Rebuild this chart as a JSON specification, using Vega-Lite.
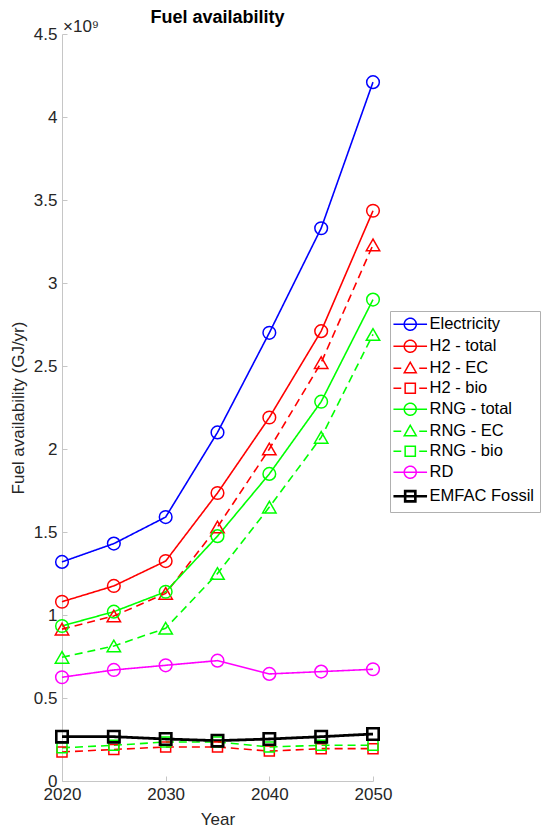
{
  "$schema": "https://vega.github.io/schema/vega-lite/v6.json",
  "width": 311,
  "height": 747,
  "autosize": "none",
  "padding": {"left": 62, "top": 34, "right": 169, "bottom": 46},
  "background": "white",
  "config": {
    "font": "Liberation Sans",
    "view": {"stroke": null},
    "axis": {"grid": false, "labelFlush": false, "labelOverlap": false, "domainColor": "#c6c6c6", "tickColor": "#c6c6c6", "labelColor": "#262626", "titleColor": "#262626", "labelFontSize": 17, "titleFontSize": 17, "titleFontWeight": "normal", "labelFont": "Liberation Sans", "titleFont": "Liberation Sans"}
  },
  "title": {"text": "Fuel availability", "fontSize": 18, "fontWeight": "bold", "color": "#000000", "anchor": "middle", "offset": -9, "font": "Liberation Sans"},
  "data": {"values": [
    {"year": 2020, "series": "Electricity", "value": 1320000000},
    {"year": 2025, "series": "Electricity", "value": 1430000000},
    {"year": 2030, "series": "Electricity", "value": 1590000000},
    {"year": 2035, "series": "Electricity", "value": 2100000000},
    {"year": 2040, "series": "Electricity", "value": 2700000000},
    {"year": 2045, "series": "Electricity", "value": 3330000000},
    {"year": 2050, "series": "Electricity", "value": 4210000000},
    {"year": 2020, "series": "H2 - total", "value": 1080000000},
    {"year": 2025, "series": "H2 - total", "value": 1175000000},
    {"year": 2030, "series": "H2 - total", "value": 1325000000},
    {"year": 2035, "series": "H2 - total", "value": 1735000000},
    {"year": 2040, "series": "H2 - total", "value": 2190000000},
    {"year": 2045, "series": "H2 - total", "value": 2710000000},
    {"year": 2050, "series": "H2 - total", "value": 3435000000},
    {"year": 2020, "series": "H2 - EC", "value": 915000000},
    {"year": 2025, "series": "H2 - EC", "value": 994000000},
    {"year": 2030, "series": "H2 - EC", "value": 1130000000},
    {"year": 2035, "series": "H2 - EC", "value": 1530000000},
    {"year": 2040, "series": "H2 - EC", "value": 2000000000},
    {"year": 2045, "series": "H2 - EC", "value": 2520000000},
    {"year": 2050, "series": "H2 - EC", "value": 3230000000},
    {"year": 2020, "series": "H2 - bio", "value": 175000000},
    {"year": 2025, "series": "H2 - bio", "value": 190000000},
    {"year": 2030, "series": "H2 - bio", "value": 205000000},
    {"year": 2035, "series": "H2 - bio", "value": 205000000},
    {"year": 2040, "series": "H2 - bio", "value": 180000000},
    {"year": 2045, "series": "H2 - bio", "value": 195000000},
    {"year": 2050, "series": "H2 - bio", "value": 195000000},
    {"year": 2020, "series": "RNG - total", "value": 934000000},
    {"year": 2025, "series": "RNG - total", "value": 1020000000},
    {"year": 2030, "series": "RNG - total", "value": 1140000000},
    {"year": 2035, "series": "RNG - total", "value": 1475000000},
    {"year": 2040, "series": "RNG - total", "value": 1850000000},
    {"year": 2045, "series": "RNG - total", "value": 2285000000},
    {"year": 2050, "series": "RNG - total", "value": 2900000000},
    {"year": 2020, "series": "RNG - EC", "value": 745000000},
    {"year": 2025, "series": "RNG - EC", "value": 813000000},
    {"year": 2030, "series": "RNG - EC", "value": 920000000},
    {"year": 2035, "series": "RNG - EC", "value": 1250000000},
    {"year": 2040, "series": "RNG - EC", "value": 1650000000},
    {"year": 2045, "series": "RNG - EC", "value": 2070000000},
    {"year": 2050, "series": "RNG - EC", "value": 2690000000},
    {"year": 2020, "series": "RNG - bio", "value": 200000000},
    {"year": 2025, "series": "RNG - bio", "value": 215000000},
    {"year": 2030, "series": "RNG - bio", "value": 235000000},
    {"year": 2035, "series": "RNG - bio", "value": 235000000},
    {"year": 2040, "series": "RNG - bio", "value": 205000000},
    {"year": 2045, "series": "RNG - bio", "value": 215000000},
    {"year": 2050, "series": "RNG - bio", "value": 215000000},
    {"year": 2020, "series": "RD", "value": 625000000},
    {"year": 2025, "series": "RD", "value": 669000000},
    {"year": 2030, "series": "RD", "value": 697000000},
    {"year": 2035, "series": "RD", "value": 725000000},
    {"year": 2040, "series": "RD", "value": 645000000},
    {"year": 2045, "series": "RD", "value": 659000000},
    {"year": 2050, "series": "RD", "value": 673000000},
    {"year": 2020, "series": "EMFAC Fossil", "value": 267000000},
    {"year": 2025, "series": "EMFAC Fossil", "value": 267000000},
    {"year": 2030, "series": "EMFAC Fossil", "value": 253000000},
    {"year": 2035, "series": "EMFAC Fossil", "value": 243000000},
    {"year": 2040, "series": "EMFAC Fossil", "value": 253000000},
    {"year": 2045, "series": "EMFAC Fossil", "value": 267000000},
    {"year": 2050, "series": "EMFAC Fossil", "value": 283000000}
  ]},
  "encoding": {
    "x": {"field": "year", "type": "quantitative", "scale": {"domain": [2020, 2050], "nice": false, "zero": false}, "axis": {"values": [2020, 2030, 2040, 2050], "format": "d", "title": "Year", "tickSize": -5, "labelPadding": 10, "titlePadding": 9}},
    "y": {"field": "value", "type": "quantitative", "scale": {"domain": [0, 4500000000], "nice": false}, "axis": {"values": [0, 500000000, 1000000000, 1500000000, 2000000000, 2500000000, 3000000000, 3500000000, 4000000000, 4500000000], "labelExpr": "format(datum.value/1e9, '~g')", "title": "Fuel availability (GJ/yr)", "tickSize": -5, "labelPadding": 10, "titlePadding": 6}}
  },
  "layer": [
    {
      "mark": {"type": "line"},
      "encoding": {
        "color": {"field": "series", "type": "nominal", "scale": {"domain": ["Electricity", "H2 - total", "H2 - EC", "H2 - bio", "RNG - total", "RNG - EC", "RNG - bio", "RD", "EMFAC Fossil"], "range": ["#0000ff", "#ff0000", "#ff0000", "#ff0000", "#00ff00", "#00ff00", "#00ff00", "#ff00ff", "#000000"]}, "legend": {
          "title": null, "orient": "none", "legendX": 328, "legendY": 277,
          "fillColor": "white", "strokeColor": "#b0b0b0", "padding": 5,
          "labelFontSize": 16.5, "labelColor": "#000000", "labelFont": "Liberation Sans",
          "symbolSize": 144, "symbolOffset": 7, "labelOffset": 11, "rowPadding": 3,
          "encode": {"symbols": {"update": {
            "shape": {"signal": "(datum.value=='H2 - EC'||datum.value=='RNG - EC') ? 'M-2.8,0H-1.5M1.5,0H2.8M-1,0.75L0,-1L1,0.75Z' : (datum.value=='H2 - bio'||datum.value=='RNG - bio') ? 'M-2.8,0H-1.5M1.5,0H2.8M-0.85,-0.85H0.85V0.85H-0.85Z' : datum.value=='EMFAC Fossil' ? 'M-2.8,0H2.8M-0.85,-0.85H0.85V0.85H-0.85Z' : 'M-2.8,0H2.8M1,0A1,1,0,1,1,-1,0A1,1,0,1,1,1,0'"},
            "fill": {"value": "transparent"},
            "stroke": {"scale": "color", "field": "value"},
            "strokeDash": {"value": [1, 0]},
            "strokeWidth": {"signal": "datum.value=='EMFAC Fossil' ? 2.6 : 1.5"}
          }}}
        }},
        "strokeDash": {"field": "series", "type": "nominal", "legend": null, "scale": {"type": "ordinal", "domain": ["EMFAC Fossil", "RD", "RNG - bio", "RNG - EC", "RNG - total", "H2 - bio", "H2 - EC", "H2 - total", "Electricity"], "range": [[1, 0], [1, 0], [8, 5], [8, 5], [1, 0], [8, 5], [8, 5], [1, 0], [1, 0]]}},
        "strokeWidth": {"field": "series", "type": "nominal", "legend": null, "scale": {"type": "ordinal", "domain": ["EMFAC Fossil", "RD", "RNG - bio", "RNG - EC", "RNG - total", "H2 - bio", "H2 - EC", "H2 - total", "Electricity"], "range": [2.8, 1.6, 1.6, 1.6, 1.6, 1.6, 1.6, 1.6, 1.6]}}
      }
    },
    {
      "mark": {"type": "point", "filled": false, "opacity": 1},
      "encoding": {
        "color": {"field": "series", "type": "nominal"},
        "shape": {"field": "series", "type": "nominal", "legend": null, "scale": {"type": "ordinal", "domain": ["EMFAC Fossil", "RD", "RNG - bio", "RNG - EC", "RNG - total", "H2 - bio", "H2 - EC", "H2 - total", "Electricity"], "range": ["square", "circle", "square", "triangle-up", "circle", "square", "triangle-up", "circle", "circle"]}},
        "size": {"field": "series", "type": "nominal", "legend": null, "scale": {"type": "ordinal", "domain": ["EMFAC Fossil", "RD", "RNG - bio", "RNG - EC", "RNG - total", "H2 - bio", "H2 - EC", "H2 - total", "Electricity"], "range": [130, 160, 100, 180, 160, 100, 180, 160, 160]}},
        "strokeWidth": {"field": "series", "type": "nominal", "legend": null, "scale": {"type": "ordinal", "domain": ["EMFAC Fossil", "RD", "RNG - bio", "RNG - EC", "RNG - total", "H2 - bio", "H2 - EC", "H2 - total", "Electricity"], "range": [2.6, 1.5, 1.5, 1.5, 1.5, 1.5, 1.5, 1.5, 1.5]}}
      }
    },
    {
      "data": {"values": [{"note": "×10⁹", "year": 2020, "value": 4500000000}]},
      "mark": {"type": "text", "align": "left", "baseline": "alphabetic", "dx": 1, "dy": -2, "fontSize": 17, "font": "Liberation Sans"},
      "encoding": {"text": {"field": "note", "type": "nominal"}, "color": {"value": "#262626"}}
    }
  ],
  "resolve": {"scale": {"strokeWidth": "independent"}}
}
